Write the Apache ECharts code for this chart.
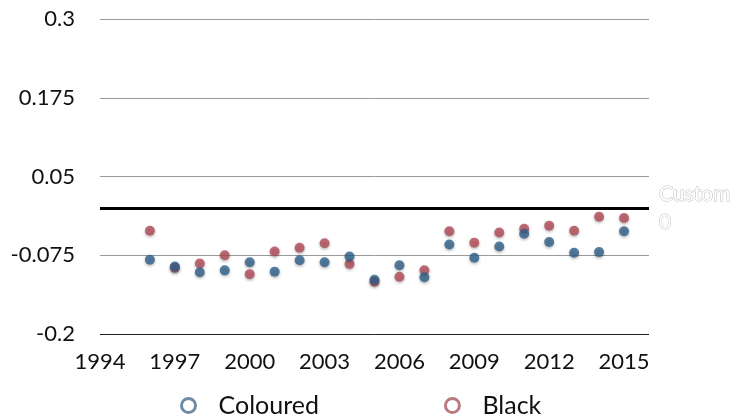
<!DOCTYPE html>
<html>
<head>
<meta charset="utf-8">
<script src="https://cdn.jsdelivr.net/npm/echarts@6/dist/echarts.min.js"></script>
<style>
  html, body { margin: 0; padding: 0; background: #fff; }
  #chart { width: 740px; height: 419px; }
</style>
</head>
<body>
<div id="chart"></div>
<script>
var years = [1996, 1997, 1998, 1999, 2000, 2001, 2002, 2003, 2004, 2005,
  2006, 2007, 2008, 2009, 2010, 2011, 2012, 2013, 2014, 2015];
var coloured = [-0.082, -0.093, -0.102, -0.099, -0.086, -0.101, -0.083, -0.086, -0.077, -0.114,
  -0.091, -0.110, -0.058, -0.079, -0.061, -0.041, -0.054, -0.071, -0.070, -0.037];
var black = [-0.036, -0.095, -0.088, -0.075, -0.105, -0.069, -0.063, -0.056, -0.089, -0.117,
  -0.109, -0.099, -0.037, -0.055, -0.039, -0.033, -0.028, -0.036, -0.014, -0.016];
var yTicks = [-0.2, -0.075, 0.05, 0.175, 0.3];

var font = 'Lato, "Open Sans", sans-serif';
var blueCol = '#2f5f8a';
var redCol = '#b04b56';

function pairs(vals) {
  return years.map(function (y, i) { return [y, vals[i]]; });
}

var mychart = echarts.init(document.getElementById('chart'));

var option = {
  animation: false,
  textStyle: { fontFamily: font },
  grid: { left: 100, right: 91, top: 19, bottom: 85 },
  xAxis: {
    type: 'value',
    min: 1994,
    max: 2016,
    interval: 3,
    axisLine: { show: false },
    axisTick: { show: false },
    splitLine: { show: false },
    axisLabel: {
      showMaxLabel: false,
      fontFamily: font,
      fontSize: 22,
      color: '#111',
      margin: 17,
      formatter: function (v) { return String(v); }
    }
  },
  yAxis: {
    type: 'value',
    min: yTicks[0],
    max: yTicks[yTicks.length - 1],
    interval: 0.125,
    axisLine: { show: false },
    axisTick: { show: false },
    splitLine: { lineStyle: { color: ['#222', '#9a9a9a', '#9a9a9a', '#9a9a9a', '#9a9a9a'], width: 1 } },
    axisLabel: {
      fontFamily: font,
      fontSize: 22,
      color: '#111',
      margin: 25,
      formatter: function (v) { return String(Math.round(v * 1000) / 1000); }
    }
  },
  legend: {
    bottom: -4,
    left: 175,
    itemGap: 125,
    itemWidth: 14,
    itemHeight: 14,
    textStyle: { fontFamily: font, fontSize: 25, color: '#111', padding: [0, 0, 0, 18] },
    data: [
      { name: 'Coloured', icon: 'circle', itemStyle: { color: '#fff', borderColor: '#4a6f8e', borderWidth: 3 } },
      { name: 'Black', icon: 'circle', itemStyle: { color: '#fff', borderColor: '#a85a5f', borderWidth: 3 } }
    ]
  },
  series: [
    {
      name: 'Black',
      type: 'scatter',
      symbolSize: 10,
      data: pairs(black),
      itemStyle: {
        color: redCol,
        shadowBlur: 3,
        shadowOffsetY: 1.5,
        shadowColor: 'rgba(0,0,0,0.35)'
      },
      z: 3
    },
    {
      name: 'Coloured',
      type: 'scatter',
      symbolSize: 10,
      data: pairs(coloured),
      itemStyle: {
        color: blueCol,
        shadowBlur: 3,
        shadowOffsetY: 1.5,
        shadowColor: 'rgba(0,0,0,0.35)'
      },
      z: 4,
      markLine: {
        silent: true,
        symbol: 'none',
        lineStyle: { color: '#000', width: 3, type: 'solid' },
        label: {
          position: 'end',
          formatter: 'Custom\n0',
          fontFamily: font,
          fontSize: 21,
          color: '#fff',
          textBorderColor: '#bbb',
          textBorderWidth: 1,
          lineHeight: 28,
          align: 'left',
          distance: 10
        },
        data: [{ yAxis: 0 }]
      }
    }
  ]
};

mychart.setOption(option);
</script>
</body>
</html>
